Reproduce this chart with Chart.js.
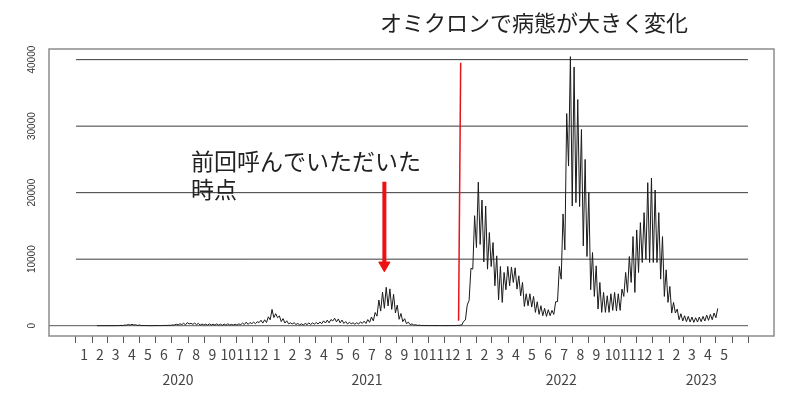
<!DOCTYPE html>
<html lang="ja">
<head>
<meta charset="utf-8">
<script src="https://cdn.jsdelivr.net/npm/chart.js@4"></script>
<style>
  html, body { margin: 0; padding: 0; background: #fff; }
</style>
</head>
<body>
<canvas id="chart" width="800" height="398"></canvas>
<script>
// 新規陽性者数 (週ごと: 週初め / 週半ば の値), 2020-02-10 の週から
const firstWeek = '2020-02-10';
const cases2020 = [
  1,3, 2,5, 1,4, 2,6, 3,10, 5,15, 16,47, 13,97, 83,180, 91,206, 102,134, 39,112,
  15,30, 15,30, 5,11, 8,15, 13,28, 12,22, 35,41, 29,55, 58,107, 102,224, 119,286,
  168,366, 131,463, 258,360, 197,389, 161,339, 95,250, 100,226, 77,276, 98,220,
  88,270, 78,235, 59,248, 78,284, 102,185, 102,221, 87,269, 157,393, 180,534,
  186,481, 311,533, 299,602, 460,822, 392,888, 481,1337
];
const cases2021 = [
  884,2447, 1219,1809, 1204,1471, 618,1064, 393,734, 276,434, 266,445, 178,340,
  121,279, 116,335, 175,409, 187,420, 234,475, 249,545, 306,729, 405,843, 425,925,
  708,1121, 573,1010, 419,843, 340,618, 260,508, 288,440, 209,452, 236,570, 342,673,
  342,920, 502,1308, 727,1979, 1429,3865, 2195,5042, 2612,5773, 2962,5534, 2447,4704,
  1915,3099, 968,1834, 611,1052, 302,537, 154,267, 87,149, 49,72, 29,41, 19,36,
  9,25, 18,28, 7,24, 8,22, 9,21, 9,24, 12,23, 11,37, 44,76
];
const cases2022 = [
  100,640, 870,3124, 3809,8638, 8503,16538, 11751,21576, 12213,18891, 9582,18000,
  8500,14000, 8900,12500, 6000,10500, 3900,8900, 3500,8000, 5400,8900, 6000,8800,
  6500,8700, 5500,7500, 4500,6500, 2900,4800, 3000,4800, 2800,4400, 2000,3600,
  1700,3000, 1500,2600, 1400,2400, 1500,2300, 1700,3600, 3600,8900, 7000,16800,
  11400,31900, 24000,40450, 18000,38900, 18500,34000, 17900,29500, 12000,25000,
  10400,20000, 5400,11000, 4400,9000, 2500,6500, 2000,5000, 2000,4500, 2000,4800,
  2300,5000, 2200,4800, 2300,5500, 4400,8000, 5000,10400, 6500,13400, 5000,14400,
  8000,15500, 9500,17000, 10000,21500, 9500,22200
];
const cases2023 = [
  9500,20400, 9500,17000, 7000,13400, 4400,8400, 3500,5900, 1900,3500, 1900,2500,
  900,1800, 700,1500, 600,1400, 550,1300, 500,1200, 550,1300, 600,1400, 700,1600,
  800,1700, 900,1900, 1200,2600
];

const yTicks = [0, 10000, 20000, 30000, 40000];
const gridValues = [10000, 20000, 30000, 40000];
const monthLabels = [
  '1','2','3','4','5','6','7','8','9','10','11','12',
  '1','2','3','4','5','6','7','8','9','10','11','12',
  '1','2','3','4','5','6','7','8','9','10','11','12',
  '1','2','3','4','5'
];
const yearLabels = ['2020', '2021', '2022', '2023'];
const yearLabelDates = ['2020-07-13', '2021-07-07', '2022-07-11', '2023-04-03'];

// 注記
const omicronLine = [['2021-12-28', 750], ['2022-01-01', 39550]];
const arrowDate = '2021-08-09';
const arrowFrom = 21650, arrowTo = 9570, arrowHead = 9080;

function dayOf(s) {
  const [y, m, d] = s.split('-').map(Number);
  return (Date.UTC(y, m - 1, d) - Date.UTC(2020, 0, 1)) / 86400000;
}

// 月の区切り (2020-01 から 2023-07 まで)
const monthStarts = [];
for (let i = 0; i <= 42; i++) {
  monthStarts.push((Date.UTC(2020, i, 1) - Date.UTC(2020, 0, 1)) / 86400000);
}
const axisEnd = monthStarts[monthStarts.length - 1];
const xMin = -51.3, xMax = axisEnd + 49.4;

const allCases = [...cases2020, ...cases2021, ...cases2022, ...cases2023];
const start = dayOf(firstWeek);
const casePoints = allCases.map((v, i) => ({ x: start + i * 3.5, y: v }));

const plain = { pointRadius: 0, tension: 0, fill: false };

const datasets = [
  Object.assign({ data: omicronLine.map(p => ({ x: dayOf(p[0]), y: p[1] })),
    borderColor: '#e8141b', borderWidth: 1.5 }, plain),
  Object.assign({ data: [{ x: dayOf(arrowDate), y: arrowFrom }, { x: dayOf(arrowDate), y: arrowTo }],
    borderColor: '#ee1111', borderWidth: 4 }, plain),
  { data: [{ x: dayOf(arrowDate), y: arrowHead }], showLine: false,
    pointStyle: 'triangle', rotation: 180, pointRadius: 6.5,
    backgroundColor: '#ee1111', borderColor: '#ee1111', borderWidth: 1 },
  Object.assign({ data: casePoints, borderColor: '#1a1a1a', borderWidth: 1 }, plain),
  Object.assign({ data: [{ x: xMin, y: 0 }, { x: axisEnd, y: 0 }],
    borderColor: '#555', borderWidth: 1 }, plain)
];
gridValues.forEach(v => {
  datasets.push(Object.assign({ data: [{ x: 0, y: v }, { x: axisEnd, y: v }],
    borderColor: '#3a3a3a', borderWidth: 1 }, plain));
});

const decor = {
  id: 'decor',
  afterDraw(chart) {
    const { ctx, chartArea: a, scales: { x, y } } = chart;
    ctx.save();
    ctx.strokeStyle = '#8c8c8c';
    ctx.lineWidth = 1.5;
    ctx.strokeRect(a.left, a.top, a.right - a.left, a.bottom - a.top);

    ctx.fillStyle = '#333';
    ctx.textAlign = 'center';
    ctx.textBaseline = 'middle';
    ctx.font = '10px "Liberation Sans", Arial, sans-serif';
    yTicks.forEach(v => {
      ctx.save();
      ctx.translate(32, y.getPixelForValue(v));
      ctx.rotate(-Math.PI / 2);
      ctx.fillText(String(v), 0, 0);
      ctx.restore();
    });

    ctx.fillStyle = '#444';
    ctx.font = '14px "Noto Sans CJK JP", sans-serif';
    monthLabels.forEach((m, i) => {
      const mid = (monthStarts[i] + monthStarts[i + 1]) / 2;
      ctx.fillText(m, x.getPixelForValue(mid), 355);
    });
    yearLabels.forEach((t, i) => {
      ctx.fillText(t, x.getPixelForValue(dayOf(yearLabelDates[i])), 380);
    });

    ctx.textAlign = 'left';
    ctx.fillStyle = '#222';
    ctx.font = '23px "Noto Sans CJK JP", sans-serif';
    ctx.fillText('前回呼んでいただいた', 191, 161);
    ctx.fillText('時点', 191, 189);
    ctx.font = '22px "Noto Sans CJK JP", sans-serif';
    ctx.fillText('オミクロンで病態が大きく変化', 380, 23);
    ctx.restore();
  }
};

new Chart(document.getElementById('chart'), {
  type: 'line',
  data: { datasets },
  options: {
    responsive: false,
    animation: false,
    layout: { padding: { left: 49, right: 26, top: 49, bottom: 55 } },
    plugins: { legend: { display: false }, tooltip: { enabled: false } },
    scales: {
      x: {
        type: 'linear', min: xMin, max: xMax,
        afterBuildTicks: s => { s.ticks = monthStarts.map(v => ({ value: v })); },
        ticks: { display: false },
        grid: { drawOnChartArea: false, drawTicks: true, tickLength: 7, color: '#555' },
        border: { display: false }
      },
      y: { display: false, min: -1550, max: 41600 }
    }
  },
  plugins: [decor]
});
</script>
</body>
</html>
